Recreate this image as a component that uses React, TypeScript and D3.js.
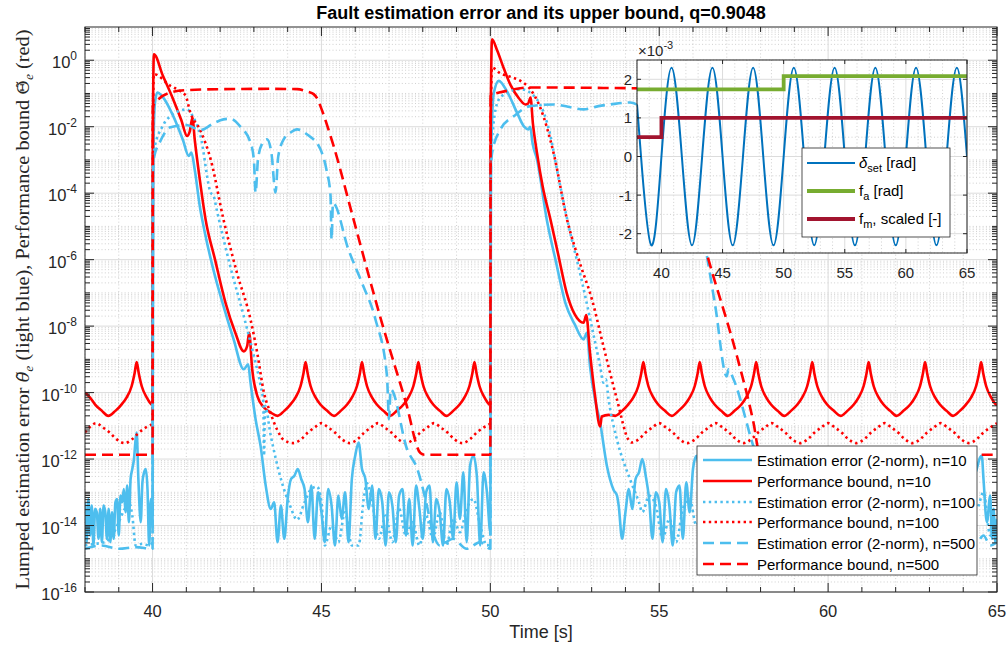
import React from "react";
import * as d3 from "d3";

type Pt = [number, number];

// ---------- labels ----------
const TITLE = "Fault estimation error and its upper bound, q=0.9048";
const X_LABEL = "Time [s]";
const timeTicks = [40, 45, 50, 55, 60, 65];
const decadeTicks = [0, -2, -4, -6, -8, -10, -12, -14, -16];
const legendLabels = [
  "Estimation error (2-norm), n=10",
  "Performance bound, n=10",
  "Estimation error (2-norm), n=100",
  "Performance bound, n=100",
  "Estimation error (2-norm), n=500",
  "Performance bound, n=500",
];

// ---------- main series: [time s, log10 of value] ----------
const errN10: Pt[] = [
  [38.0, -13.3], [38.05, -14.5], [38.1, -13.2], [38.15, -14.3], [38.2, -13.4], [38.25, -14.6], [38.3, -13.5], [38.35, -13.6],
  [38.4, -14.4], [38.45, -13.5], [38.5, -14.5], [38.55, -13.4], [38.6, -13.6], [38.65, -14.4], [38.7, -13.5], [38.75, -14.5],
  [38.8, -13.6], [38.85, -14.4], [38.9, -13.3], [38.95, -13.2], [39.0, -14.3], [39.05, -13.1], [39.1, -13.3], [39.15, -12.9],
  [39.2, -13.6], [39.25, -12.8], [39.3, -13.9], [39.35, -12.6], [39.4, -12.3], [39.45, -12.0], [39.5, -11.4], [39.53, -11.2],
  [39.58, -12.6], [39.65, -13.9], [39.7, -12.7], [39.75, -12.4], [39.8, -12.3], [39.85, -12.9], [39.9, -14.6], [39.95, -13.2],
  [40.0, -14.0],
  [40.02, -3.0], [40.07, -1.3], [40.14, -0.97], [40.3, -1.1], [40.6, -1.65], [40.9, -2.4], [41.07, -2.88], [41.15, -2.78],
  [41.25, -3.3], [41.4, -4.4], [41.55, -5.2], [41.8, -6.3], [42.1, -7.4], [42.4, -8.4], [42.7, -9.3], [42.83, -9.15],
  [42.9, -9.7], [43.05, -10.8], [43.2, -11.62], [43.35, -12.8], [43.5, -13.5],
  [43.6, -13.3], [43.7, -14.5], [43.8, -13.4], [43.9, -14.4], [44.0, -13.2], [44.1, -12.6], [44.2, -12.5], [44.3, -12.3],
  [44.4, -12.6], [44.5, -12.9], [44.6, -13.9], [44.7, -12.8], [44.8, -14.4], [44.9, -13.0], [45.0, -13.6], [45.1, -14.5],
  [45.2, -12.9], [45.3, -13.4], [45.4, -14.6], [45.5, -13.1], [45.6, -13.8], [45.7, -13.0], [45.8, -14.5], [45.9, -12.6],
  [46.0, -11.9], [46.1, -11.5], [46.2, -12.3], [46.3, -12.6], [46.4, -13.5], [46.5, -12.8], [46.6, -14.4], [46.7, -12.9],
  [46.8, -13.3], [46.9, -14.6], [47.0, -13.0], [47.1, -13.4], [47.2, -14.5], [47.3, -13.1], [47.4, -12.9], [47.5, -14.3],
  [47.6, -13.2], [47.7, -14.6], [47.8, -12.8], [47.9, -13.5], [48.0, -14.4], [48.1, -13.0], [48.2, -12.8], [48.3, -14.5],
  [48.4, -13.2], [48.5, -13.6], [48.6, -14.6], [48.7, -12.9], [48.8, -13.3], [48.9, -14.4], [49.0, -12.7], [49.1, -13.8],
  [49.2, -12.4], [49.3, -14.5], [49.4, -12.2], [49.5, -11.9], [49.6, -12.5], [49.7, -14.6], [49.8, -12.4], [49.9, -13.0],
  [50.0, -14.2],
  [50.02, -3.0], [50.1, -1.0], [50.25, -0.62], [50.5, -0.95], [50.8, -1.6], [51.0, -2.0], [51.13, -2.08], [51.18, -2.0],
  [51.25, -2.5], [51.38, -2.98], [51.67, -4.79], [51.95, -6.1], [52.22, -7.3], [52.5, -7.95], [52.76, -8.4], [52.86, -8.2],
  [52.95, -9.2], [53.1, -10.2], [53.25, -10.9], [53.45, -12.2], [53.65, -12.93], [53.75, -13.1],
  [53.8, -13.4], [53.9, -14.4], [54.0, -13.6], [54.1, -12.9], [54.2, -13.5], [54.3, -12.6], [54.4, -12.4], [54.5, -12.0],
  [54.6, -12.5], [54.7, -13.2], [54.8, -14.4], [54.9, -13.0], [55.0, -13.3], [55.1, -14.5], [55.2, -12.9], [55.3, -13.4],
  [55.4, -14.6], [55.5, -13.0], [55.6, -12.8], [55.7, -14.4], [55.8, -12.7], [55.9, -13.6], [56.0, -12.3], [56.1, -11.9],
  [56.2, -12.4], [56.4, -13.5], [56.6, -14.3], [56.8, -13.0], [57.0, -14.4], [57.2, -12.9], [57.4, -14.2], [57.6, -13.1],
  [57.8, -12.2], [58.0, -14.3], [58.2, -13.0], [58.4, -14.5], [58.6, -13.2], [58.8, -14.4], [59.0, -12.9], [59.2, -14.1],
  [59.4, -12.3], [59.6, -12.1], [59.8, -14.2], [60.0, -13.0], [60.2, -14.4], [60.4, -13.3], [60.6, -14.5], [60.8, -13.0],
  [61.0, -12.4], [61.2, -12.1], [61.4, -14.3], [61.6, -13.1], [61.8, -14.5], [62.0, -13.2], [62.2, -14.3], [62.4, -13.0],
  [62.6, -14.4], [62.8, -12.3], [63.0, -13.3], [63.2, -14.5], [63.4, -13.0], [63.6, -14.2], [63.8, -13.1], [64.0, -14.4],
  [64.2, -13.0], [64.3, -12.6], [64.4, -12.3], [64.5, -11.95], [64.55, -11.9], [64.6, -12.6], [64.7, -13.9], [64.8, -13.1],
  [64.85, -14.4], [64.9, -13.5], [64.95, -14.5], [65.0, -13.8],
];

const boundN10: Pt[] = [
  [38.0, -10.0], [38.15, -10.15], [38.3, -10.36], [38.5, -10.55], [38.69, -10.7], [38.9, -10.55], [39.08, -10.36], [39.23, -10.15],
  [39.38, -9.81], [39.47, -9.41], [39.53, -9.08], [39.59, -9.41], [39.68, -9.81], [39.83, -10.15], [39.97, -10.36], [40.0, -10.38],
  [40.01, -2.0], [40.04, 0.18], [40.3, -0.45], [40.6, -1.15], [40.85, -1.8], [41.02, -2.28], [41.1, -2.15], [41.18, -1.73],
  [41.25, -2.4], [41.4, -3.6], [41.57, -4.79], [41.85, -6.0], [42.16, -7.3], [42.45, -8.2], [42.7, -8.76], [42.8, -8.6],
  [42.86, -8.2], [42.95, -9.3], [43.1, -10.1], [43.3, -10.45], [43.5, -10.6], [43.7, -10.7],
  [43.9, -10.55], [44.08, -10.36], [44.23, -10.15], [44.38, -9.81], [44.47, -9.41], [44.53, -9.08], [44.59, -9.41], [44.68, -9.81],
  [44.83, -10.15], [44.97, -10.36], [45.17, -10.55], [45.37, -10.7],
  [45.57, -10.55], [45.76, -10.36], [45.9, -10.15], [46.05, -9.81], [46.14, -9.41], [46.2, -9.08], [46.26, -9.41], [46.35, -9.81],
  [46.5, -10.15], [46.64, -10.36], [46.84, -10.55], [47.03, -10.7],
  [47.23, -10.55], [47.43, -10.36], [47.57, -10.15], [47.72, -9.81], [47.81, -9.41], [47.87, -9.08], [47.93, -9.41], [48.02, -9.81],
  [48.17, -10.15], [48.31, -10.36], [48.51, -10.55], [48.7, -10.7],
  [48.9, -10.55], [49.09, -10.36], [49.23, -10.15], [49.38, -9.81], [49.47, -9.41], [49.53, -9.08], [49.59, -9.41], [49.68, -9.81],
  [49.83, -10.15], [49.97, -10.36], [50.0, -10.38],
  [50.01, -2.0], [50.05, 0.63], [50.2, 0.3], [50.4, -0.25], [50.6, -0.75], [50.85, -1.15], [51.04, -1.33], [51.12, -1.3],
  [51.19, -1.12], [51.26, -1.9], [51.38, -2.78], [51.55, -3.8], [51.78, -4.79], [52.0, -5.8], [52.26, -7.0], [52.5, -7.65],
  [52.76, -7.9], [52.84, -7.67], [52.95, -8.8], [53.1, -10.1], [53.25, -11.02], [53.3, -10.72], [53.5, -10.67], [53.7, -10.7],
  [53.9, -10.55], [54.08, -10.36], [54.23, -10.15], [54.38, -9.81], [54.47, -9.41], [54.53, -9.08], [54.59, -9.41], [54.68, -9.81],
  [54.83, -10.15], [54.97, -10.36], [55.17, -10.55], [55.37, -10.7],
  [55.57, -10.55], [55.76, -10.36], [55.9, -10.15], [56.05, -9.81], [56.14, -9.41], [56.2, -9.08], [56.26, -9.41], [56.35, -9.81],
  [56.5, -10.15], [56.64, -10.36], [56.84, -10.55], [57.03, -10.7],
  [57.23, -10.55], [57.43, -10.36], [57.57, -10.15], [57.72, -9.81], [57.81, -9.41], [57.87, -9.08], [57.93, -9.41], [58.02, -9.81],
  [58.17, -10.15], [58.31, -10.36], [58.51, -10.55], [58.7, -10.7],
  [58.9, -10.55], [59.09, -10.36], [59.23, -10.15], [59.38, -9.81], [59.47, -9.41], [59.53, -9.08], [59.59, -9.41], [59.68, -9.81],
  [59.83, -10.15], [59.97, -10.36], [60.17, -10.55], [60.37, -10.7],
  [60.57, -10.55], [60.76, -10.36], [60.9, -10.15], [61.05, -9.81], [61.14, -9.41], [61.2, -9.08], [61.26, -9.41], [61.35, -9.81],
  [61.5, -10.15], [61.64, -10.36], [61.84, -10.55], [62.03, -10.7],
  [62.23, -10.55], [62.43, -10.36], [62.57, -10.15], [62.72, -9.81], [62.81, -9.41], [62.87, -9.08], [62.93, -9.41], [63.02, -9.81],
  [63.17, -10.15], [63.31, -10.36], [63.51, -10.55], [63.7, -10.7],
  [63.9, -10.55], [64.08, -10.36], [64.23, -10.15], [64.38, -9.81], [64.47, -9.41], [64.53, -9.08], [64.59, -9.41], [64.68, -9.81],
  [64.83, -10.15], [64.97, -10.36], [65.0, -10.38],
];

const errN100: Pt[] = [
  [38.0, -14.6], [38.3, -14.55], [38.6, -14.5], [38.8, -14.3], [39.0, -13.9], [39.15, -13.55], [39.3, -13.3], [39.4, -13.7],
  [39.5, -14.6], [39.7, -14.55], [39.9, -14.6], [40.0, -14.5],
  [40.01, -3.5], [40.04, -2.73], [40.3, -1.98], [40.53, -1.68], [41.02, -1.48], [41.2, -1.7], [41.42, -2.28], [41.72, -3.98],
  [41.81, -4.09], [41.9, -4.5], [42.3, -6.2], [42.7, -7.7], [43.0, -8.9], [43.2, -9.8], [43.28, -10.3], [43.3, -11.9],
  [43.33, -10.4], [43.5, -11.3], [43.8, -12.6], [44.08, -13.43], [44.28, -13.83],
  [44.5, -13.3], [44.7, -12.9], [44.87, -12.83], [45.0, -13.3], [45.1, -14.6], [45.3, -14.0], [45.5, -14.5], [45.7, -13.6],
  [45.9, -14.6], [46.1, -14.6], [46.25, -13.2], [46.35, -12.73], [46.5, -13.3], [46.7, -14.4], [46.9, -13.7], [47.1, -14.5],
  [47.3, -13.5], [47.5, -14.3], [47.7, -13.9], [47.9, -14.6], [48.1, -13.7], [48.3, -14.4], [48.5, -13.6], [48.7, -14.6],
  [48.9, -13.8], [49.1, -14.2], [49.3, -13.5], [49.5, -13.2], [49.7, -14.0], [49.9, -14.6], [50.0, -14.5],
  [50.01, -3.0], [50.05, -2.4], [50.2, -1.3], [50.35, -1.07], [50.89, -0.87], [51.38, -1.18], [51.78, -2.28], [51.97, -3.28],
  [52.3, -4.9], [52.7, -6.6], [53.0, -8.0], [53.25, -9.2], [53.35, -9.7], [53.42, -9.6], [53.5, -10.2], [53.75, -11.42],
  [54.14, -12.62], [54.4, -13.3],
  [54.5, -13.6], [54.7, -13.1], [54.9, -13.4], [55.1, -14.4], [55.3, -13.8], [55.5, -14.5], [55.7, -13.5], [55.9, -13.2],
  [56.1, -14.0], [56.3, -13.6], [56.6, -14.4], [56.9, -13.5], [57.2, -14.3], [57.5, -13.4], [57.8, -14.5], [58.1, -13.6],
  [58.4, -14.2], [58.7, -13.3], [59.0, -14.5], [59.3, -13.7], [59.6, -13.2], [59.9, -14.4], [60.2, -13.6], [60.5, -14.5],
  [60.8, -13.5], [61.1, -13.3], [61.4, -14.4], [61.7, -13.7], [62.0, -14.5], [62.3, -13.6], [62.6, -14.3], [62.9, -13.4],
  [63.2, -14.5], [63.5, -13.7], [63.8, -14.4], [64.1, -13.5], [64.4, -13.5], [64.6, -13.0], [64.8, -14.3], [65.0, -13.8],
];

const boundN100: Pt[] = [
  [38.0, -11.2], [38.13, -11.05], [38.33, -10.92], [38.53, -11.05], [38.73, -11.2], [38.93, -11.4], [39.17, -11.52], [39.4, -11.4],
  [39.6, -11.2], [39.8, -11.05], [40.0, -10.92],
  [40.01, -2.0], [40.04, -0.42], [40.53, -0.77], [40.85, -0.95], [40.98, -1.07], [41.12, -1.58], [41.4, -2.08], [41.72, -2.98],
  [42.1, -4.79], [42.5, -6.4], [42.9, -7.8], [43.1, -8.81], [43.3, -10.01], [43.49, -10.61], [43.69, -11.12], [43.88, -11.42],
  [44.17, -11.52],
  [44.4, -11.4], [44.6, -11.2], [44.8, -11.05], [45.0, -10.92], [45.2, -11.05], [45.4, -11.2], [45.6, -11.4], [45.83, -11.52],
  [46.07, -11.4], [46.27, -11.2], [46.47, -11.05], [46.67, -10.92], [46.87, -11.05], [47.07, -11.2], [47.27, -11.4], [47.5, -11.52],
  [47.73, -11.4], [47.93, -11.2], [48.13, -11.05], [48.33, -10.92], [48.53, -11.05], [48.73, -11.2], [48.93, -11.4], [49.17, -11.52],
  [49.4, -11.4], [49.6, -11.2], [49.8, -11.05], [50.0, -10.92],
  [50.01, -2.0], [50.05, -0.22], [50.3, -0.4], [50.6, -0.5], [50.89, -0.62], [51.18, -0.87], [51.48, -1.43], [51.87, -2.78],
  [52.27, -4.79], [52.65, -6.1], [53.01, -7.2], [53.35, -8.61], [53.75, -10.21], [54.09, -11.42], [54.17, -11.5],
  [54.4, -11.4], [54.6, -11.2], [54.8, -11.05], [55.0, -10.92], [55.2, -11.05], [55.4, -11.2], [55.6, -11.4], [55.83, -11.52],
  [56.07, -11.4], [56.27, -11.2], [56.47, -11.05], [56.67, -10.92], [56.87, -11.05], [57.07, -11.2], [57.27, -11.4], [57.5, -11.52],
  [57.73, -11.4], [57.93, -11.2], [58.13, -11.05], [58.33, -10.92], [58.53, -11.05], [58.73, -11.2], [58.93, -11.4], [59.17, -11.52],
  [59.4, -11.4], [59.6, -11.2], [59.8, -11.05], [60.0, -10.92], [60.2, -11.05], [60.4, -11.2], [60.6, -11.4], [60.83, -11.52],
  [61.07, -11.4], [61.27, -11.2], [61.47, -11.05], [61.67, -10.92], [61.87, -11.05], [62.07, -11.2], [62.27, -11.4], [62.5, -11.52],
  [62.73, -11.4], [62.93, -11.2], [63.13, -11.05], [63.33, -10.92], [63.53, -11.05], [63.73, -11.2], [63.93, -11.4], [64.17, -11.52],
  [64.4, -11.4], [64.6, -11.2], [64.8, -11.05], [65.0, -10.92],
];

const errN500: Pt[] = [
  [38.0, -14.7], [38.5, -14.6], [39.0, -14.7], [39.5, -14.65], [40.0, -14.7],
  [40.01, -3.5], [40.05, -2.9], [40.2, -2.5], [40.53, -2.02], [41.0, -1.95], [41.42, -2.1], [41.8, -1.9], [42.1, -1.78],
  [42.3, -1.76], [42.6, -2.0], [42.9, -2.48], [43.0, -3.0], [43.05, -3.99], [43.12, -3.0], [43.25, -2.5], [43.39, -2.38],
  [43.52, -2.8], [43.64, -3.98], [43.72, -2.9], [43.9, -2.35], [44.08, -2.18], [44.28, -2.08], [44.6, -2.25], [44.97, -2.68],
  [45.15, -3.3], [45.27, -4.09], [45.3, -5.4], [45.34, -4.3], [45.8, -5.7], [46.2, -6.7], [46.6, -7.8], [46.94, -9.5],
  [47.0, -10.8], [47.05, -9.9], [47.54, -11.72], [47.84, -12.3], [48.1, -13.3], [48.3, -14.2], [48.5, -14.6], [48.9, -14.4],
  [49.3, -14.7], [49.7, -14.5], [50.0, -14.7],
  [50.01, -3.5], [50.05, -2.8], [50.3, -2.08], [50.7, -1.68], [51.18, -1.38], [51.87, -1.33], [52.3, -1.4], [52.76, -1.48],
  [53.2, -1.38], [53.55, -1.33], [54.14, -1.27], [54.45, -1.38], [55.0, -1.6], [55.6, -2.4], [56.0, -3.8], [56.42, -5.94],
  [56.66, -7.4], [57.0, -9.51], [57.05, -9.3], [57.2, -9.6], [57.79, -11.62], [58.2, -12.8], [58.6, -14.0], [59.0, -14.6],
  [60.0, -14.5], [61.0, -14.7], [62.0, -14.5], [63.0, -14.7], [64.0, -14.5], [64.4, -14.5], [64.6, -14.3], [64.8, -14.6],
  [65.0, -14.5],
];

const boundN500: Pt[] = [
  [38.0, -11.87], [40.0, -11.87], [40.01, -1.38], [40.2, -1.15], [40.53, -0.97], [41.0, -0.9], [42.0, -0.87], [43.5, -0.86],
  [44.28, -0.87], [44.6, -0.95], [44.77, -1.02], [44.9, -1.2], [44.97, -1.38], [45.36, -2.58], [45.95, -4.79], [46.79, -7.9],
  [47.5, -10.3], [47.93, -11.82], [48.05, -11.87], [50.0, -11.87], [50.01, -1.07], [50.5, -0.92], [51.18, -0.82], [53.0, -0.83],
  [55.0, -0.86], [55.12, -1.0], [55.27, -1.38], [56.46, -6.0], [57.3, -8.9], [57.79, -10.9], [57.97, -11.82], [58.1, -11.87],
  [65.0, -11.87],
];

// ---------- inset series (values in units of 1e-3) ----------
const insetTicksX = [40, 45, 50, 55, 60, 65];
const insetTicksY = [-2, -1, 0, 1, 2];
const deltaSet: Pt[] = [
  [38.0, 1.35], [38.33, 0], [39.17, -2.3], [40.0, 0], [40.83, 2.3], [41.67, 0], [42.5, -2.3], [43.33, 0], [44.17, 2.3],
  [45.0, 0], [45.83, -2.3], [46.67, 0], [47.5, 2.3], [48.33, 0], [49.17, -2.3], [50.0, 0], [50.83, 2.3], [51.67, 0],
  [52.5, -2.3], [53.33, 0], [54.17, 2.3], [55.0, 0], [55.83, -2.3], [56.67, 0], [57.5, 2.3], [58.33, 0], [59.17, -2.3],
  [60.0, 0], [60.83, 2.3], [61.67, 0], [62.5, -2.3], [63.33, 0], [64.17, 2.3], [65.0, 0],
];
const faSteps: Pt[] = [[38, 1.74], [50, 2.08], [65, 2.08]];
const fmSteps: Pt[] = [[38, 0.5], [40, 1.0], [65, 1.0]];
const insetLegend = [
  { symbol: "δ", sub: "set", rest: " [rad]" },
  { symbol: "f", sub: "a", rest: " [rad]" },
  { symbol: "f", sub: "m", rest: ", scaled [-]" },
];

// ---------- layout ----------
const PLOT = { x0: 85, x1: 997, y0: 27, y1: 592 };
const INSET = { x0: 637, x1: 967, y0: 60, y1: 253 };
const SANS = "'Liberation Sans', Arial, Helvetica, sans-serif";
const SERIF = "'Liberation Serif', 'Times New Roman', serif";
const AXIS = "#262626";
const LIGHT_BLUE = "#4DBEEE";
const RED = "#FF0000";
const DOTTED = "2.4 3.4";
const DASHED = "11 6";

export default function App() {
  const x = d3.scaleLinear().domain([38, 65]).range([PLOT.x0, PLOT.x1]);
  const y = d3.scaleLog().domain([1e-16, 1e1]).range([PLOT.y1, PLOT.y0]);
  const line = d3
    .line<Pt>()
    .x((d) => x(d[0]))
    .y((d) => y(Math.pow(10, d[1])))
    .curve(d3.curveMonotoneX);

  const series = [
    { data: errN10, color: LIGHT_BLUE, dash: undefined as string | undefined },
    { data: boundN10, color: RED, dash: undefined },
    { data: errN100, color: LIGHT_BLUE, dash: DOTTED },
    { data: boundN100, color: RED, dash: DOTTED },
    { data: errN500, color: LIGHT_BLUE, dash: DASHED },
    { data: boundN500, color: RED, dash: DASHED },
  ];

  const minorY: number[] = [];
  for (let e = -16; e <= 0; e++) {
    for (let m = 1; m <= 9; m++) {
      if (m === 1 && e % 2 === 0) continue;
      minorY.push(m * Math.pow(10, e));
    }
  }
  const minorX = d3.range(38, 66).filter((t) => t % 5 !== 0);

  // inset scales
  const xi = d3.scaleLinear().domain([38, 65]).range([INSET.x0, INSET.x1]);
  const yi = d3.scaleLinear().domain([-2.5, 2.5]).range([INSET.y1, INSET.y0]);
  const sineLine = d3.line<Pt>().x((d) => xi(d[0])).y((d) => yi(d[1])).curve(d3.curveNatural);
  const stepLine = d3.line<Pt>().x((d) => xi(d[0])).y((d) => yi(d[1])).curve(d3.curveStepAfter);
  const insetMinorX = d3.range(38, 66).filter((t) => t % 5 !== 0);
  const insetMinorY = [-2.5, -1.5, -0.5, 0.5, 1.5, 2.5];

  const legend = { x0: 697, y0: 446, x1: 977, y1: 575 };
  const legendRows = [460, 481, 502, 522, 543, 564];

  const iLeg = { x0: 802, y0: 148, x1: 950, y1: 237 };
  const iLegRows = [163, 191, 219];
  const iLegColors = ["#0072BD", "#77AC30", "#A2142F"];
  const iLegWidths = [2, 3.8, 3.8];

  return (
    <svg
      width={1007}
      height={647}
      style={{ position: "absolute", left: 0, top: 0, background: "#fff" }}
      fontFamily={SANS}
    >
      <defs>
        <clipPath id="plotClip">
          <rect x={PLOT.x0} y={PLOT.y0} width={PLOT.x1 - PLOT.x0} height={PLOT.y1 - PLOT.y0} />
        </clipPath>
        <clipPath id="insetClip">
          <rect x={INSET.x0} y={INSET.y0} width={INSET.x1 - INSET.x0} height={INSET.y1 - INSET.y0} />
        </clipPath>
      </defs>
      <rect x={0} y={0} width={1007} height={647} fill="#fff" />

      {/* minor grid */}
      <g stroke="#bcbcbc" strokeWidth={0.7} strokeDasharray="1 2.3">
        {minorX.map((t) => (
          <line key={"mx" + t} x1={x(t)} x2={x(t)} y1={PLOT.y0} y2={PLOT.y1} />
        ))}
        {minorY.map((v, i) => (
          <line key={"my" + i} x1={PLOT.x0} x2={PLOT.x1} y1={y(v)} y2={y(v)} />
        ))}
      </g>
      {/* major grid */}
      <g stroke="#dcdcdc" strokeWidth={1}>
        {timeTicks.map((t) => (
          <line key={"gx" + t} x1={x(t)} x2={x(t)} y1={PLOT.y0} y2={PLOT.y1} />
        ))}
        {decadeTicks.map((e) => (
          <line key={"gy" + e} x1={PLOT.x0} x2={PLOT.x1} y1={y(Math.pow(10, e))} y2={y(Math.pow(10, e))} />
        ))}
      </g>

      {/* data */}
      <g clipPath="url(#plotClip)" fill="none">
        {series.map((s, i) => (
          <path
            key={"s" + i}
            d={line(s.data) || ""}
            stroke={s.color}
            strokeWidth={2.6}
            strokeDasharray={s.dash}
            strokeLinejoin="round"
          />
        ))}
      </g>

      {/* axes box & ticks */}
      <rect
        x={PLOT.x0}
        y={PLOT.y0}
        width={PLOT.x1 - PLOT.x0}
        height={PLOT.y1 - PLOT.y0}
        fill="none"
        stroke={AXIS}
        strokeWidth={1}
      />
      <g stroke={AXIS} strokeWidth={1}>
        {timeTicks.map((t) => (
          <g key={"tx" + t}>
            <line x1={x(t)} x2={x(t)} y1={PLOT.y1} y2={PLOT.y1 - 9} />
            <line x1={x(t)} x2={x(t)} y1={PLOT.y0} y2={PLOT.y0 + 9} />
          </g>
        ))}
        {minorX.map((t) => (
          <g key={"tmx" + t}>
            <line x1={x(t)} x2={x(t)} y1={PLOT.y1} y2={PLOT.y1 - 5} />
            <line x1={x(t)} x2={x(t)} y1={PLOT.y0} y2={PLOT.y0 + 5} />
          </g>
        ))}
        {decadeTicks.map((e) => (
          <g key={"ty" + e}>
            <line x1={PLOT.x0} x2={PLOT.x0 + 9} y1={y(Math.pow(10, e))} y2={y(Math.pow(10, e))} />
            <line x1={PLOT.x1} x2={PLOT.x1 - 9} y1={y(Math.pow(10, e))} y2={y(Math.pow(10, e))} />
          </g>
        ))}
        {minorY.map((v, i) => (
          <g key={"tmy" + i}>
            <line x1={PLOT.x0} x2={PLOT.x0 + 5} y1={y(v)} y2={y(v)} />
            <line x1={PLOT.x1} x2={PLOT.x1 - 5} y1={y(v)} y2={y(v)} />
          </g>
        ))}
      </g>

      {/* tick labels */}
      <g fill={AXIS} fontSize={16.5}>
        {timeTicks.map((t) => (
          <text key={"lx" + t} x={x(t)} y={617} textAnchor="middle">
            {t}
          </text>
        ))}
        {decadeTicks.map((e) => (
          <text key={"ly" + e} x={77} y={y(Math.pow(10, e)) + 8} textAnchor="end">
            10
            <tspan fontSize={12} dy={-8}>
              {String(e)}
            </tspan>
          </text>
        ))}
      </g>

      {/* titles */}
      <text x={(PLOT.x0 + PLOT.x1) / 2} y={19} textAnchor="middle" fontWeight="bold" fontSize={18} fill="#000">
        {TITLE}
      </text>
      <text x={(PLOT.x0 + PLOT.x1) / 2} y={638} textAnchor="middle" fontSize={18} fill={AXIS}>
        {X_LABEL}
      </text>
      <text
        transform={`translate(29,${(PLOT.y0 + PLOT.y1) / 2}) rotate(-90)`}
        textAnchor="middle"
        fontFamily={SERIF}
        fontSize={19.5}
        fill={AXIS}
        textLength={560}
        lengthAdjust="spacingAndGlyphs"
      >
        Lumped estimation error{" "}
        <tspan fontStyle="italic" fontFamily="'DejaVu Serif', serif" fontSize={17}>
          θ̃
        </tspan>
        <tspan fontStyle="italic" fontSize={13} dy={4}>
          e
        </tspan>
        <tspan dy={-4}> (light blue), Performance bound </tspan>
        <tspan fontFamily="'DejaVu Serif', serif" fontSize={17}>
          Θ̃
        </tspan>
        <tspan fontStyle="italic" fontSize={13} dy={4}>
          e
        </tspan>
        <tspan dy={-4}> (red)</tspan>
      </text>

      {/* main legend */}
      <rect
        x={legend.x0}
        y={legend.y0}
        width={legend.x1 - legend.x0}
        height={legend.y1 - legend.y0}
        fill="#fff"
        stroke={AXIS}
        strokeWidth={0.8}
      />
      {legendLabels.map((label, i) => (
        <g key={"lg" + i}>
          <line
            x1={703}
            x2={752}
            y1={legendRows[i]}
            y2={legendRows[i]}
            stroke={series[i].color}
            strokeWidth={2.6}
            strokeDasharray={series[i].dash}
          />
          <text x={757} y={legendRows[i] + 5.5} fontSize={15} fill="#000">
            {label}
          </text>
        </g>
      ))}

      {/* inset axes */}
      <rect
        x={INSET.x0}
        y={INSET.y0}
        width={INSET.x1 - INSET.x0}
        height={INSET.y1 - INSET.y0}
        fill="#fff"
      />
      <g stroke="#bcbcbc" strokeWidth={0.7} strokeDasharray="1 2.3">
        {insetMinorX.map((t) => (
          <line key={"imx" + t} x1={xi(t)} x2={xi(t)} y1={INSET.y0} y2={INSET.y1} />
        ))}
        {insetMinorY.map((v) => (
          <line key={"imy" + v} x1={INSET.x0} x2={INSET.x1} y1={yi(v)} y2={yi(v)} />
        ))}
      </g>
      <g stroke="#dcdcdc" strokeWidth={1}>
        {insetTicksX.map((t) => (
          <line key={"igx" + t} x1={xi(t)} x2={xi(t)} y1={INSET.y0} y2={INSET.y1} />
        ))}
        {insetTicksY.map((v) => (
          <line key={"igy" + v} x1={INSET.x0} x2={INSET.x1} y1={yi(v)} y2={yi(v)} />
        ))}
      </g>
      <g clipPath="url(#insetClip)" fill="none">
        <path d={sineLine(deltaSet) || ""} stroke="#0072BD" strokeWidth={2} />
        <path d={stepLine(faSteps) || ""} stroke="#77AC30" strokeWidth={3.8} />
        <path d={stepLine(fmSteps) || ""} stroke="#A2142F" strokeWidth={3.8} />
      </g>
      <rect
        x={INSET.x0}
        y={INSET.y0}
        width={INSET.x1 - INSET.x0}
        height={INSET.y1 - INSET.y0}
        fill="none"
        stroke={AXIS}
        strokeWidth={1}
      />
      <g stroke={AXIS} strokeWidth={1}>
        {insetTicksX.map((t) => (
          <g key={"itx" + t}>
            <line x1={xi(t)} x2={xi(t)} y1={INSET.y1} y2={INSET.y1 - 4} />
            <line x1={xi(t)} x2={xi(t)} y1={INSET.y0} y2={INSET.y0 + 4} />
          </g>
        ))}
        {insetTicksY.map((v) => (
          <g key={"ity" + v}>
            <line x1={INSET.x0} x2={INSET.x0 + 4} y1={yi(v)} y2={yi(v)} />
            <line x1={INSET.x1} x2={INSET.x1 - 4} y1={yi(v)} y2={yi(v)} />
          </g>
        ))}
      </g>
      <g fill={AXIS} fontSize={15}>
        {insetTicksX.map((t) => (
          <text key={"ilx" + t} x={xi(t)} y={278} textAnchor="middle">
            {t}
          </text>
        ))}
        {insetTicksY.map((v) => (
          <text key={"ily" + v} x={632} y={yi(v) + 5.5} textAnchor="end">
            {v < 0 ? "-" + Math.abs(v) : String(v)}
          </text>
        ))}
        <text x={638} y={56}>
          ×10
          <tspan fontSize={11} dy={-7}>
            -3
          </tspan>
        </text>
      </g>

      {/* inset legend */}
      <rect
        x={iLeg.x0}
        y={iLeg.y0}
        width={iLeg.x1 - iLeg.x0}
        height={iLeg.y1 - iLeg.y0}
        fill="#fff"
        stroke={AXIS}
        strokeWidth={0.8}
      />
      {insetLegend.map((item, i) => (
        <g key={"il" + i}>
          <line x1={807} x2={855} y1={iLegRows[i]} y2={iLegRows[i]} stroke={iLegColors[i]} strokeWidth={iLegWidths[i]} />
          <text x={859} y={iLegRows[i] + 5} fontSize={15} fill="#000">
            <tspan fontStyle={i === 0 ? "italic" : "normal"}>{item.symbol}</tspan>
            <tspan fontSize={11} dy={4}>
              {item.sub}
            </tspan>
            <tspan dy={-4}>{item.rest}</tspan>
          </text>
        </g>
      ))}
    </svg>
  );
}
